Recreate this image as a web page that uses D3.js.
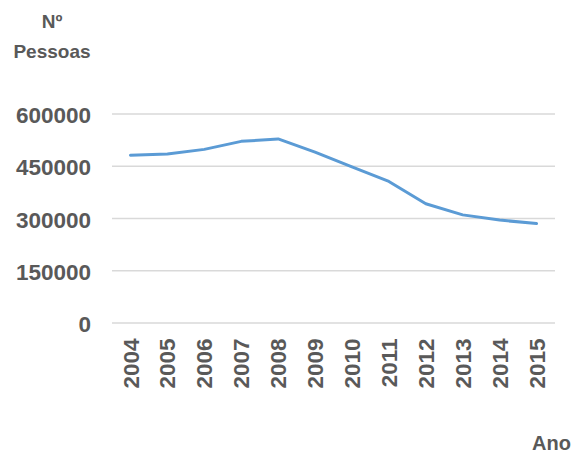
<!DOCTYPE html>
<html>
<head>
<meta charset="utf-8">
<script src="https://cdn.jsdelivr.net/npm/d3@7"></script>
<style>
  html, body { margin: 0; padding: 0; background: #ffffff; }
  svg { display: block; font-family: "Liberation Sans", Arial, sans-serif; }
</style>
</head>
<body>
<svg id="chart" width="580" height="453"></svg>
<script>
// Number of people per year
const years = ["2004", "2005", "2006", "2007", "2008", "2009", "2010", "2011", "2012", "2013", "2014", "2015"];
const people = [480000, 484000, 497000, 520000, 527000, 489000, 447000, 405000, 341000, 309000, 294000, 284000];
const yTicks = [0, 150000, 300000, 450000, 600000];
const yTitle = ["Nº", "Pessoas"];
const xTitle = "Ano";

const svg = d3.select("#chart");
const plot = { left: 112, right: 555, top: 113.5, bottom: 322.5 };
const textColor = "#595959";

const x = d3.scaleBand().domain(years).range([plot.left, plot.right]);
const y = d3.scaleLinear().domain([0, 600000]).range([plot.bottom, plot.top]);

// horizontal gridlines with value labels
const yAxis = svg.append("g")
  .attr("transform", `translate(${plot.left},0)`)
  .call(d3.axisLeft(y).tickValues(yTicks).tickSize(-(plot.right - plot.left)).tickPadding(21).tickFormat(d3.format("d")));
yAxis.select(".domain").remove();
yAxis.selectAll(".tick line").attr("stroke", "#d9d9d9").attr("stroke-width", 1.6);
yAxis.selectAll(".tick text")
  .attr("fill", textColor)
  .attr("font-size", 22.5)
  .attr("font-weight", "bold")
  .attr("dy", "0.4em");

// year labels, rotated
const xAxis = svg.append("g")
  .attr("transform", `translate(0,${plot.bottom})`)
  .call(d3.axisBottom(x).tickSize(0).tickPadding(0));
xAxis.select(".domain").remove();
xAxis.selectAll(".tick text")
  .attr("fill", textColor)
  .attr("font-size", 22.5)
  .attr("font-weight", "bold")
  .attr("text-anchor", "end")
  .attr("transform", "rotate(-90)")
  .attr("x", -16)
  .attr("y", 0)
  .attr("dy", "0.36em");

// series line
const line = d3.line()
  .x((d, i) => x(years[i]) + x.bandwidth() / 2)
  .y(d => y(d));
svg.append("path")
  .datum(people)
  .attr("fill", "none")
  .attr("stroke", "#5b9bd5")
  .attr("stroke-width", 3)
  .attr("stroke-linejoin", "round")
  .attr("stroke-linecap", "round")
  .attr("d", line);

// axis titles
svg.append("g").selectAll("text")
  .data(yTitle)
  .join("text")
  .attr("x", 52)
  .attr("y", (d, i) => 28 + i * 30)
  .attr("text-anchor", "middle")
  .attr("fill", textColor)
  .attr("font-size", 19)
  .attr("font-weight", "bold")
  .text(d => d);

svg.append("text")
  .attr("x", 571)
  .attr("y", 450)
  .attr("text-anchor", "end")
  .attr("fill", textColor)
  .attr("font-size", 20)
  .attr("font-weight", "bold")
  .text(xTitle);
</script>
</body>
</html>
